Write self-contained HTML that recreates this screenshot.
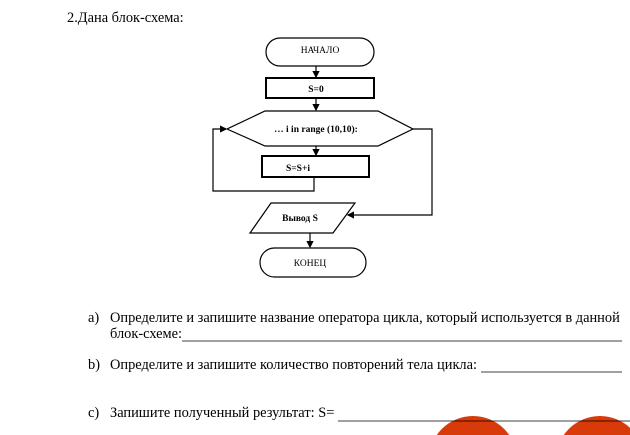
<!DOCTYPE html>
<html><head><meta charset="utf-8"><style>
html,body{margin:0;width:630px;height:435px;overflow:hidden}
body{background:#fff;position:relative;font-family:"Liberation Serif","Noto Serif CJK SC",serif;color:#000}
.t{position:absolute;font-size:14.4px;white-space:nowrap;line-height:17px}
</style></head><body>
<div class="t" style="left:67px;top:10px">2.Дана блок-схема:</div>
<svg width="630" height="435" style="position:absolute;left:0;top:0" font-family="Liberation Serif, serif" font-weight="bold" font-size="9.5">
<defs><marker id="a" markerWidth="6" markerHeight="6" refX="5" refY="3" orient="auto"><path d="M0,0 L6,3 L0,6z" fill="#000"/></marker></defs>
<g fill="none" stroke="#000" stroke-width="1.2">
<rect x="266" y="38" width="108" height="28" rx="14"/>
<rect x="266" y="78" width="108" height="20" stroke-width="2"/>
<polygon points="227,129 265,111 378,111 413,129 378,146 265,146"/>
<rect x="262" y="156" width="107" height="21" stroke-width="2"/>
<polygon points="271,203 355,203 333,233 250,233"/>
<rect x="260" y="248" width="106" height="29" rx="14.5"/>
<line x1="316" y1="66" x2="316" y2="77" marker-end="url(#a)"/>
<line x1="316" y1="98" x2="316" y2="110" marker-end="url(#a)"/>
<line x1="316" y1="146" x2="316" y2="155" marker-end="url(#a)"/>
<polyline points="314,177 314,191 213,191 213,129 226,129" marker-end="url(#a)"/>
<polyline points="413,129 432,129 432,215 348,215" marker-end="url(#a)"/>
<line x1="310" y1="233" x2="310" y2="247" marker-end="url(#a)"/>
</g>
<g text-anchor="middle">
<text x="320" y="53" font-weight="normal">НАЧАЛО</text>
<text x="316" y="92">S=0</text>
<text x="316" y="132">… i in range (10,10):</text>
<text x="298" y="171">S=S+i</text>
<text x="300" y="221">Вывод S</text>
<text x="310" y="266" font-weight="normal">КОНЕЦ</text>
</g>
<line x1="182" y1="341" x2="622" y2="341" stroke="#000" stroke-width="0.8"/>
<line x1="481" y1="372" x2="622" y2="372" stroke="#000" stroke-width="0.8"/>
<circle cx="473" cy="460" r="44" fill="#d93a0a"/>
<circle cx="600" cy="460" r="44" fill="#d93a0a"/>
<line x1="338" y1="421" x2="630" y2="421" stroke="#000" stroke-width="0.8"/>
</svg>
<div class="t" style="left:88px;top:310px">a)</div>
<div class="t" style="left:110px;top:310px">Определите и запишите название оператора цикла, который используется в данной</div>
<div class="t" style="left:110px;top:326px">блок-схеме:</div>
<div class="t" style="left:88px;top:357px">b)</div>
<div class="t" style="left:110px;top:357px">Определите и запишите количество повторений тела цикла:</div>
<div class="t" style="left:88px;top:405px">c)</div>
<div class="t" style="left:110px;top:405px">Запишите полученный результат: S=</div>
</body></html>
